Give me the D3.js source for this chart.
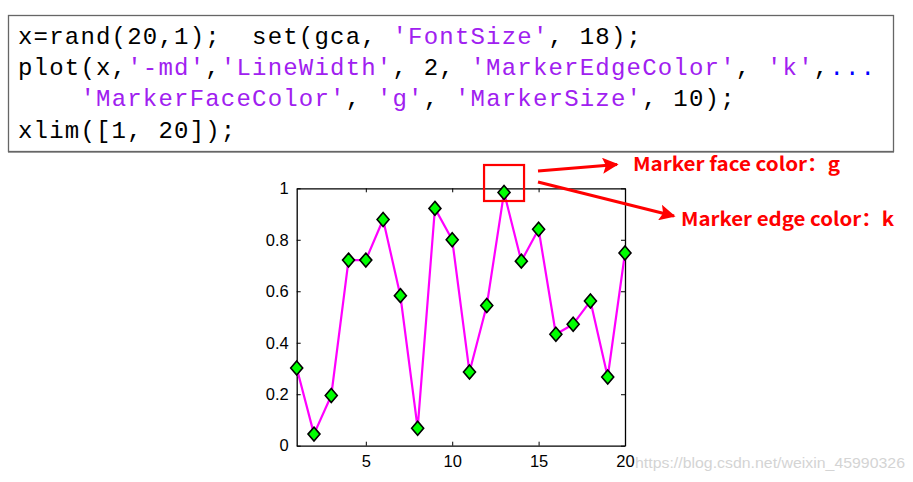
<!DOCTYPE html>
<html><head><meta charset="utf-8">
<script src="https://cdn.jsdelivr.net/npm/d3@7"></script>
<style>body{margin:0;background:#fff}svg{display:block}</style>
</head><body>
<script>
const xValues = d3.range(1, 21);
const yValues = [0.302, 0.045, 0.195, 0.721, 0.721, 0.879, 0.583, 0.068, 0.922, 0.800,
                 0.286, 0.545, 0.984, 0.717, 0.841, 0.433, 0.472, 0.562, 0.267, 0.749];
const xTicks = [5, 10, 15, 20];
const yTicks = [0, 0.2, 0.4, 0.6, 0.8, 1];
const codeLines = [
  [["x=rand(20,1);  set(gca, ", "k"], ["'FontSize'", "s"], [", 18);", "k"]],
  [["plot(x,", "k"], ["'-md'", "s"], [",", "k"], ["'LineWidth'", "s"], [", 2, ", "k"], ["'MarkerEdgeColor'", "s"], [", ", "k"], ["'k'", "s"], [",", "k"], ["...", "b"]],
  [["    ", "k"], ["'MarkerFaceColor'", "s"], [", ", "k"], ["'g'", "s"], [", ", "k"], ["'MarkerSize'", "s"], [", 10);", "k"]],
  [["xlim([1, 20]);", "k"]]
];
const notes = ["Marker face color：g", "Marker edge color：k"];
const watermark = "https://blog.csdn.net/weixin_45990326";

const W = 913, H = 482;
const svg = d3.select("body").append("svg").attr("width", W).attr("height", H);

// code box
svg.append("rect").attr("x", 8.5).attr("y", 15.5).attr("width", 885).attr("height", 136)
  .attr("fill", "#fff").attr("stroke", "#666").attr("stroke-width", 1.3);
svg.append("line").attr("x1", 8).attr("x2", 894).attr("y1", 152.5).attr("y2", 152.5)
  .attr("stroke", "#999").attr("stroke-width", 1);
const colors = {k: "#000", s: "#A020F0", b: "#0000FF"};
codeLines.forEach((line, i) => {
  const t = svg.append("text").attr("x", 18).attr("y", 44 + i * 31.2)
    .attr("font-family", "'Liberation Mono', 'Courier New', monospace")
    .attr("font-size", 24).attr("letter-spacing", 1.2)
    .attr("xml:space", "preserve").style("white-space", "pre");
  line.forEach(([s, c]) => t.append("tspan").attr("fill", colors[c]).text(s));
});

// plot
const L = 296.7, R = 625, T = 188.3, B = 445.7;
const x = d3.scaleLinear().domain([1, 20]).range([L, R]);
const y = d3.scaleLinear().domain([0, 1]).range([B, T]);
const tickFont = "'Liberation Sans', Arial, sans-serif";

const gx = svg.append("g").attr("transform", `translate(0,${B})`)
  .call(d3.axisBottom(x).tickValues(xTicks).tickSizeInner(-4).tickSizeOuter(0).tickPadding(9));
const gxt = svg.append("g").attr("transform", `translate(0,${T})`)
  .call(d3.axisTop(x).tickValues(xTicks).tickSizeInner(-4).tickSizeOuter(0).tickFormat(""));
const gy = svg.append("g").attr("transform", `translate(${L},0)`)
  .call(d3.axisLeft(y).tickValues(yTicks).tickSizeInner(-4).tickSizeOuter(0).tickPadding(8).tickFormat(d3.format("")));
const gyr = svg.append("g").attr("transform", `translate(${R},0)`)
  .call(d3.axisRight(y).tickValues(yTicks).tickSizeInner(-4).tickSizeOuter(0).tickFormat(""));
[gx, gxt, gy, gyr].forEach(g => {
  g.select(".domain").attr("stroke", "#000").attr("stroke-width", 1.3);
  g.selectAll(".tick line").attr("stroke", "#000").attr("stroke-width", 1);
  g.selectAll("text").attr("font-family", tickFont).attr("font-size", 16.5).attr("fill", "#000");
});
gx.selectAll("text").attr("dy", "0.72em");

svg.append("path").datum(yValues)
  .attr("fill", "none").attr("stroke", "#FF00FF").attr("stroke-width", 2.2).attr("stroke-linejoin", "round")
  .attr("d", d3.line().x((d, i) => x(xValues[i])).y(d => y(d)));

svg.append("g").selectAll("path").data(yValues).join("path")
  .attr("transform", (d, i) => `translate(${x(xValues[i])},${y(d)})`)
  .attr("d", "M0,-7 L6,0 L0,7 L-6,0 Z")
  .attr("fill", "#00FF00").attr("stroke", "#000").attr("stroke-width", 1.6).attr("stroke-linejoin", "miter");

// annotations
const red = "#FF0000";
const hi = 12; // highlighted point index (x = 13)
svg.append("rect").attr("x", x(xValues[hi]) - 20).attr("y", 165).attr("width", 40).attr("height", 36)
  .attr("fill", "none").attr("stroke", red).attr("stroke-width", 2.2);
const defs = svg.append("defs");
defs.append("marker").attr("id", "ah").attr("viewBox", "0 0 10 10").attr("refX", 9).attr("refY", 5)
  .attr("markerWidth", 6).attr("markerHeight", 5).attr("markerUnits", "strokeWidth").attr("orient", "auto")
  .append("path").attr("d", "M0,0 L10,5 L0,10 L2,5 Z").attr("fill", red);
svg.append("line").attr("x1", 538).attr("y1", 171).attr("x2", 617).attr("y2", 164.5)
  .attr("stroke", red).attr("stroke-width", 3.2).attr("marker-end", "url(#ah)");
svg.append("line").attr("x1", 538).attr("y1", 182).attr("x2", 674).attr("y2", 216)
  .attr("stroke", red).attr("stroke-width", 3.2).attr("marker-end", "url(#ah)");
const noteFont = "'Noto Sans CJK SC', 'Noto Sans', sans-serif";
svg.append("text").attr("x", 633).attr("y", 170.5).attr("font-family", noteFont).attr("font-weight", "bold")
  .attr("font-size", 19).attr("fill", red).attr("textLength", 207).attr("lengthAdjust", "spacingAndGlyphs").text(notes[0]);
svg.append("text").attr("x", 681).attr("y", 225.5).attr("font-family", noteFont).attr("font-weight", "bold")
  .attr("font-size", 19).attr("fill", red).attr("textLength", 213).attr("lengthAdjust", "spacingAndGlyphs").text(notes[1]);

svg.append("text").attr("x", 635).attr("y", 468).attr("font-family", "'Liberation Sans', Arial, sans-serif")
  .attr("font-size", 15).attr("fill", "#d4d4d4").attr("textLength", 270).attr("lengthAdjust", "spacingAndGlyphs")
  .text(watermark);
gx.raise();
</script>
</body></html>
